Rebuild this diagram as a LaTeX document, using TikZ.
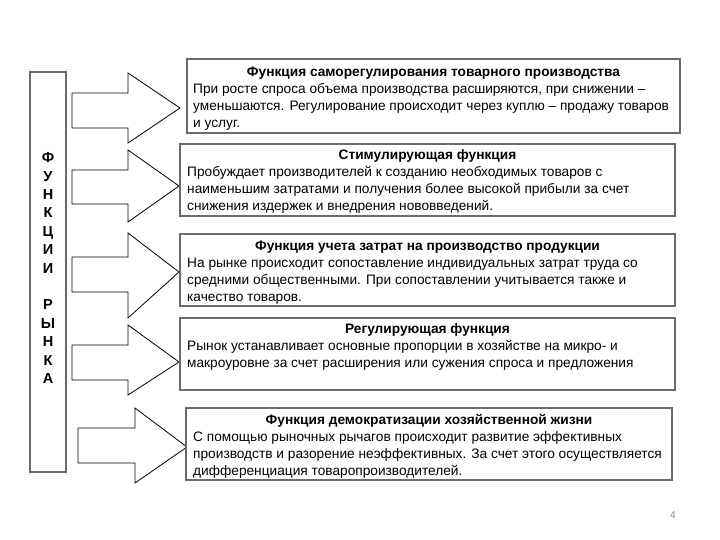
\documentclass[tikz,border=0pt]{standalone}
\usepackage{fontspec}
\setmainfont{Liberation Sans}
\begin{document}
\begin{tikzpicture}[x=1pt,y=-1pt,
  frame/.style={draw=black!58,line width=1.6pt,fill=white,inner sep=0pt},
  barrow/.style={draw=black,line width=0.8pt,fill=white,line join=miter},
  ttl/.style={font=\fontsize{13.7}{17}\selectfont\bfseries,inner sep=0pt,anchor=base},
  body/.style={font=\fontsize{13.7}{17}\selectfont,inner sep=0pt,anchor=base west,align=left},
]
\useasboundingbox (0,0) rectangle (720,540);

% left column
\node[frame,minimum width=36pt,minimum height=400pt] (col) at (48,272) {};
\node[inner sep=0pt,align=center,font=\fontsize{14.5}{18.4}\selectfont\bfseries] (coltxt) at (48,268)
 {Ф\\У\\Н\\К\\Ц\\И\\И\\[18.4pt]Р\\Ы\\Н\\К\\А};

% arrows
\draw[barrow] (72,93) -- (128,93) -- (128,73) -- (180,108) -- (128,143) -- (128,128) -- (72,128) -- cycle;
\draw[barrow] (72,170) -- (128,170) -- (128,150) -- (179,186) -- (128,222) -- (128,204) -- (72,204) -- cycle;
\draw[barrow] (72,257) -- (128,257) -- (128,233) -- (179,272) -- (128,318) -- (128,292) -- (72,292) -- cycle;
\draw[barrow] (72,345) -- (128,345) -- (128,325) -- (179,362) -- (128,395) -- (128,380) -- (72,380) -- cycle;
\draw[barrow] (78,428) -- (135,428) -- (135,408) -- (187,447) -- (135,483) -- (135,463) -- (78,463) -- cycle;

% boxes
\node[frame,minimum width=493pt,minimum height=74pt] (b1) at (433.5,96) {};
\node[frame,minimum width=495pt,minimum height=72pt] (b2) at (427.5,180) {};
\node[frame,minimum width=495pt,minimum height=72pt] (b3) at (427.5,270) {};
\node[frame,minimum width=495pt,minimum height=72pt] (b4) at (427.5,354) {};
\node[frame,minimum width=486pt,minimum height=72pt] (b5) at (429,444) {};

% titles (base = baseline); bodies (base = baseline of last line)
\node[ttl] (t1) at (433.5,76.5) {Функция саморегулирования товарного производства};
\node[body] (d1) at (193,127.5) {При росте спроса объема производства расширяются, при снижении –\\уменьшаются. Регулирование происходит через куплю – продажу товаров\\и услуг.};

\node[ttl] (t2) at (427.5,159.5) {Стимулирующая функция};
\node[body] (d2) at (187,210.5) {Пробуждает производителей к созданию необходимых товаров с\\наименьшим затратами и получения более высокой прибыли за счет\\снижения издержек и внедрения нововведений.};

\node[ttl] (t3) at (427.5,250.5) {Функция учета затрат на производство продукции};
\node[body] (d3) at (187,301.5) {На рынке происходит сопоставление индивидуальных затрат труда со\\средними общественными. При сопоставлении учитывается также и\\качество товаров.};

\node[ttl] (t4) at (427.5,333.5) {Регулирующая функция};
\node[body] (d4) at (187,367.5) {Рынок устанавливает основные пропорции в хозяйстве на микро- и\\макроуровне за счет расширения или сужения спроса и предложения};

\node[ttl] (t5) at (429,424.5) {Функция демократизации хозяйственной жизни};
\node[body] (d5) at (193,475.5) {С помощью рыночных рычагов происходит развитие эффективных\\производств и разорение неэффективных. За счет этого осуществляется\\дифференциация товаропроизводителей.};

\node[text=black!45,font=\fontsize{10}{11}\selectfont,inner sep=0pt] (pg) at (673,515) {4};
\end{tikzpicture}
\end{document}
